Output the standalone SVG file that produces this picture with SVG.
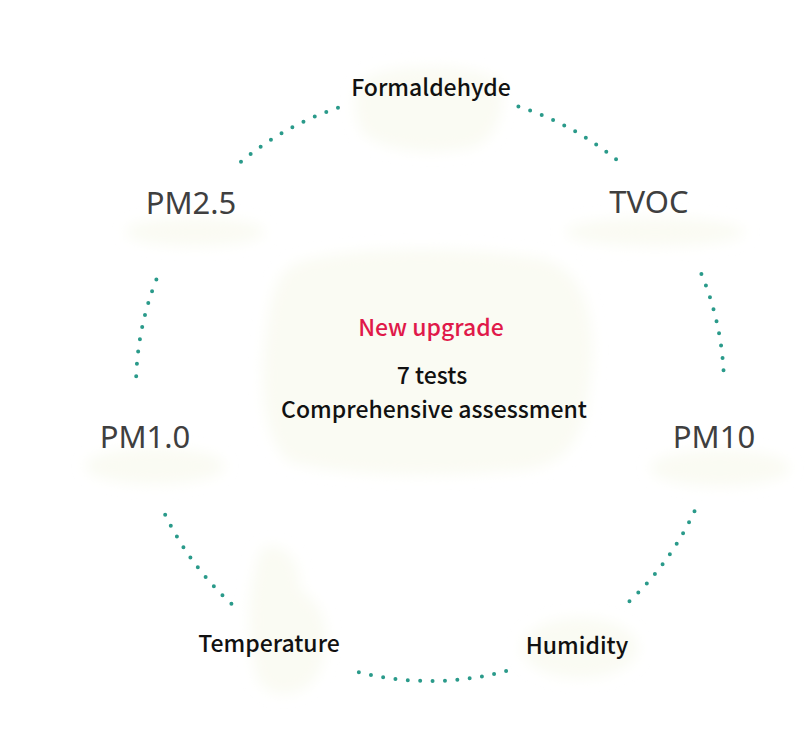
<svg xmlns="http://www.w3.org/2000/svg" width="810" height="743" viewBox="0 0 810 743">
<defs>
<filter id="soft" x="-20%" y="-20%" width="140%" height="140%"><feGaussianBlur stdDeviation="7"/></filter>
</defs>
<style>
.blob{fill:#fafbf3}
.ring{fill:none;stroke:#2a9a8a;stroke-width:4;stroke-linecap:round;stroke-dasharray:0 12.4}
.big{font-family:"Noto Sans","Noto Sans CJK SC",sans-serif;font-size:31px;fill:#3f3f3f}
.lbl{font-family:"Noto Sans CJK SC","Noto Sans",sans-serif;font-size:23px;font-weight:500;fill:#111}
.red{fill:#e0194a}
</style>
<rect width="810" height="743" fill="#ffffff"/>
<g id="background" filter="url(#soft)">
<path class="blob" d="M300 262 C360 245 470 248 540 258 C585 268 598 320 590 380 C585 430 575 465 520 470 C440 478 340 476 290 462 C262 440 258 380 268 320 C272 290 280 268 300 262 Z"/>
<path class="blob" d="M365 78 C400 62 470 64 498 80 C508 100 500 140 470 148 C430 156 380 150 362 132 C352 110 352 90 365 78 Z"/>
<ellipse class="blob" cx="195" cy="232" rx="70" ry="14"/>
<ellipse class="blob" cx="655" cy="232" rx="90" ry="14"/>
<ellipse class="blob" cx="155" cy="466" rx="70" ry="18"/>
<ellipse class="blob" cx="720" cy="468" rx="70" ry="18"/>
<path class="blob" d="M262 548 C285 540 300 560 300 590 C320 600 335 630 320 670 C305 700 270 700 258 680 C245 640 248 580 262 548 Z"/>
<ellipse class="blob" cx="580" cy="648" rx="58" ry="30"/>
</g>
<g id="connectors">
<path class="ring" d="M241 161.8 A294 294 0 0 1 342.1 106.5"/>
<path class="ring" d="M518.4 106.6 A294 294 0 0 1 619 161.8"/>
<path class="ring" d="M701.4 274 A294 294 0 0 1 723.8 376.2"/>
<path class="ring" d="M694.5 511.2 A294 294 0 0 1 626.6 603.8"/>
<path class="ring" d="M506.1 671 A294 294 0 0 1 353.9 671"/>
<path class="ring" d="M231.4 603.8 A294 294 0 0 1 163.5 511.2"/>
<path class="ring" d="M136.2 376.2 A294 294 0 0 1 158.6 274"/>
</g>
<g id="formaldehyde"><text class="lbl" x="431" y="96" text-anchor="middle">Formaldehyde</text></g>
<g id="tvoc"><text class="big" x="649" y="213" text-anchor="middle">TVOC</text></g>
<g id="pm25"><text class="big" x="191" y="214" text-anchor="middle">PM2.5</text></g>
<g id="pm10"><text class="big" x="714" y="448" text-anchor="middle">PM10</text></g>
<g id="pm10b"><text class="big" x="145" y="448" text-anchor="middle">PM1.0</text></g>
<g id="temperature"><text class="lbl" x="269" y="652" text-anchor="middle">Temperature</text></g>
<g id="humidity"><text class="lbl" x="577" y="654" text-anchor="middle">Humidity</text></g>
<g id="center">
<text class="lbl red" x="431" y="336" text-anchor="middle">New upgrade</text>
<text class="lbl" x="432" y="384" text-anchor="middle">7 tests</text>
<text class="lbl" x="434" y="418" text-anchor="middle">Comprehensive assessment</text>
</g>
</svg>
